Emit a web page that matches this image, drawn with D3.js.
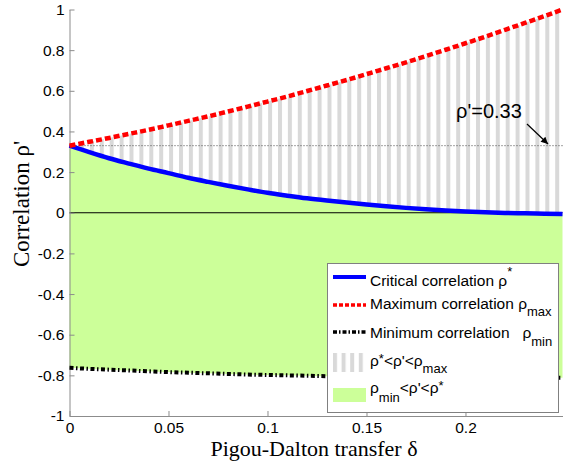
<!DOCTYPE html>
<html><head><meta charset="utf-8">
<script src="https://cdn.jsdelivr.net/npm/d3@7"></script>
<style>
html,body{margin:0;padding:0;background:#fff;}
</style></head>
<body>
<svg id="chart" width="574" height="470" style="font-family:'Liberation Sans',Arial,sans-serif"></svg>
<script>
// ---- data ----
const delta   = [0,0.01,0.02,0.03,0.04,0.05,0.06,0.07,0.08,0.09,0.10,0.11,0.12,0.13,0.14,0.15,0.16,0.17,0.18,0.19,0.20,0.21,0.22,0.23,0.24,0.249];
const rhoStar = [0.330,0.298,0.268,0.242,0.217,0.195,0.172,0.152,0.133,0.115,0.098,0.084,0.071,0.060,0.050,0.041,0.032,0.024,0.017,0.011,0.006,0.002,-0.001,-0.003,-0.005,-0.006];
const rhoMax  = [0.330,0.349,0.368,0.388,0.408,0.430,0.452,0.474,0.498,0.522,0.547,0.572,0.599,0.626,0.653,0.682,0.711,0.740,0.771,0.802,0.834,0.866,0.900,0.934,0.968,1.000];
const rhoMin  = [-0.763,-0.768,-0.772,-0.776,-0.780,-0.784,-0.787,-0.790,-0.793,-0.796,-0.798,-0.800,-0.802,-0.804,-0.805,-0.806,-0.807,-0.808,-0.809,-0.809,-0.810,-0.810,-0.811,-0.811,-0.812,-0.812];
const rhoPrime = 0.33;
const xTicks = [0,0.05,0.1,0.15,0.2];
const xTickLabels = ["0","0.05","0.1","0.15","0.2"];
const yTicks = [-1,-0.8,-0.6,-0.4,-0.2,0,0.2,0.4,0.6,0.8,1];
const yTickLabels = ["-1","-0.8","-0.6","-0.4","-0.2","0","0.2","0.4","0.6","0.8","1"];
const xLabel = "Pigou-Dalton transfer δ";
const yLabel = "Correlation ρ'";
const annotation = "ρ'=0.33";

// ---- layout ----
const SANS = "'Liberation Sans',Arial,sans-serif";
const SERIF = "'Liberation Serif','Times New Roman',serif";
const svg = d3.select("#chart");
const x = d3.scaleLinear().domain([0,0.249]).range([69.5,562.5]);
const y = d3.scaleLinear().domain([-1,1]).range([416,9.5]);
const pts = delta.map((d,i)=>({d, s:rhoStar[i], mx:rhoMax[i], mn:rhoMin[i]}));

const defs = svg.append("defs");
const pat = defs.append("pattern").attr("id","stripes").attr("patternUnits","userSpaceOnUse")
  .attr("x",x(0)+10.5).attr("y",0).attr("width",9.9).attr("height",10);
pat.append("rect").attr("x",0).attr("y",0).attr("width",4).attr("height",10).attr("fill","#d9d9d9");
const lpat = defs.append("pattern").attr("id","lstripes").attr("patternUnits","userSpaceOnUse")
  .attr("x",333).attr("y",0).attr("width",8.6).attr("height",10);
lpat.append("rect").attr("x",0).attr("y",0).attr("width",4).attr("height",10).attr("fill","#d9d9d9");
const mk = defs.append("marker").attr("id","arrow").attr("viewBox","0 0 10 10").attr("refX",10).attr("refY",5)
  .attr("markerWidth",9).attr("markerHeight",7).attr("markerUnits","userSpaceOnUse").attr("orient","auto");
mk.append("path").attr("d","M0,0 L10,5 L0,10 z").attr("fill","#000");

// green region
svg.append("path").datum(pts)
  .attr("d", d3.area().x(p=>x(p.d)).y0(p=>y(p.mn)).y1(p=>y(p.s)).curve(d3.curveMonotoneX))
  .attr("fill","#ccff99");
// striped region
svg.append("path").datum(pts)
  .attr("d", d3.area().x(p=>x(p.d)).y0(p=>y(p.s)).y1(p=>y(p.mx)).curve(d3.curveMonotoneX))
  .attr("fill","url(#stripes)");

// zero line
svg.append("line").attr("x1",x(0)).attr("x2",x(0.249)).attr("y1",y(0)).attr("y2",y(0))
  .attr("stroke","#000").attr("stroke-width",1.2);
// rho' dotted line
svg.append("line").attr("x1",x(0)).attr("x2",x(0.249)).attr("y1",y(rhoPrime)).attr("y2",y(rhoPrime))
  .attr("stroke","#444").attr("stroke-width",1).attr("stroke-dasharray","1,2");

// axes
const yAxis = svg.append("g").attr("transform",`translate(${x(0)},0)`)
  .call(d3.axisLeft(y).tickValues(yTicks).tickFormat((d,i)=>yTickLabels[i]).tickSizeInner(-5).tickSizeOuter(0).tickPadding(5));
const xAxis = svg.append("g").attr("transform",`translate(0,${y(-1)})`)
  .call(d3.axisBottom(x).tickValues(xTicks).tickFormat((d,i)=>xTickLabels[i]).tickSizeInner(-5).tickSizeOuter(0).tickPadding(6));
[yAxis,xAxis].forEach(g=>{
  g.selectAll("path").attr("stroke","#8c8c8c");
  g.selectAll("line").attr("stroke","#8c8c8c");
  g.selectAll("text").attr("fill","#000").style("font-size","15.5px").style("font-family",SANS);
});

// curves
const line = acc => d3.line().x(p=>x(p.d)).y(p=>y(acc(p))).curve(d3.curveMonotoneX);
svg.append("path").datum(pts).attr("d",line(p=>p.s)).attr("fill","none").attr("stroke","#0000ff").attr("stroke-width",4.5);
svg.append("path").datum(pts).attr("d",line(p=>p.mx)).attr("fill","none").attr("stroke","#ff0000").attr("stroke-width",4.5).attr("stroke-dasharray","6,3");
svg.append("path").datum(pts).attr("d",line(p=>p.mn)).attr("fill","none").attr("stroke","#000").attr("stroke-width",4).attr("stroke-dasharray","4,2.5,1.5,2.5");

// annotation
svg.append("text").attr("x",456).attr("y",118).style("font-size","20px").style("font-family",SANS).text(annotation);
svg.append("line").attr("x1",527).attr("y1",124).attr("x2",548).attr("y2",144)
  .attr("stroke","#000").attr("stroke-width",1.2).attr("marker-end","url(#arrow)");

// labels
svg.append("text").attr("x",314).attr("y",456).attr("text-anchor","middle")
  .style("font-family",SERIF).style("font-size","22px").text(xLabel);
svg.append("text").attr("transform","translate(29,204) rotate(-90)").attr("text-anchor","middle")
  .style("font-family",SERIF).style("font-size","23px").text(yLabel);

// legend
const lg = svg.append("g");
lg.append("rect").attr("x",327.5).attr("y",263.5).attr("width",231).attr("height",149)
  .attr("fill","#fff").attr("stroke","#808080").attr("stroke-width",1);
lg.append("line").attr("x1",333).attr("x2",366).attr("y1",277).attr("y2",277).attr("stroke","#0000ff").attr("stroke-width",4);
lg.append("line").attr("x1",333).attr("x2",366).attr("y1",305).attr("y2",305).attr("stroke","#ff0000").attr("stroke-width",3.5).attr("stroke-dasharray","4,2");
lg.append("line").attr("x1",333).attr("x2",366).attr("y1",332).attr("y2",332).attr("stroke","#000").attr("stroke-width",3.5).attr("stroke-dasharray","4,2,1.5,2");
lg.append("rect").attr("x",333).attr("y",353).attr("width",34).attr("height",19).attr("fill","url(#lstripes)");
lg.append("rect").attr("x",333).attr("y",388).attr("width",33).attr("height",14).attr("fill","#ccff99");

function legText(yy, parts){
  const t = lg.append("text").attr("x",370).attr("y",yy).style("font-size","15.5px")
    .style("font-family",SANS).style("white-space","pre");
  parts.forEach(p=>{
    const s = t.append("tspan").text(p.t);
    if(p.sub){ s.style("font-size","13px").attr("dy",p.dy); }
    else if(p.dy!==undefined){ s.attr("dy",p.dy); }
  });
}
legText(286,[{t:"Critical correlation ρ"},{t:"*",sub:true,dy:-10},{t:"",dy:10}]);
legText(309,[{t:"Maximum correlation ρ"},{t:"max",sub:true,dy:7}]);
legText(338,[{t:"Minimum correlation   ρ"},{t:"min",sub:true,dy:8}]);
legText(366,[{t:"ρ"},{t:"*",sub:true,dy:-3},{t:"<ρ'<ρ",dy:3},{t:"max",sub:true,dy:7}]);
legText(393,[{t:"ρ"},{t:"min",sub:true,dy:9},{t:"<ρ'<ρ",dy:-9},{t:"*",sub:true,dy:-3}]);
</script>
</body></html>
